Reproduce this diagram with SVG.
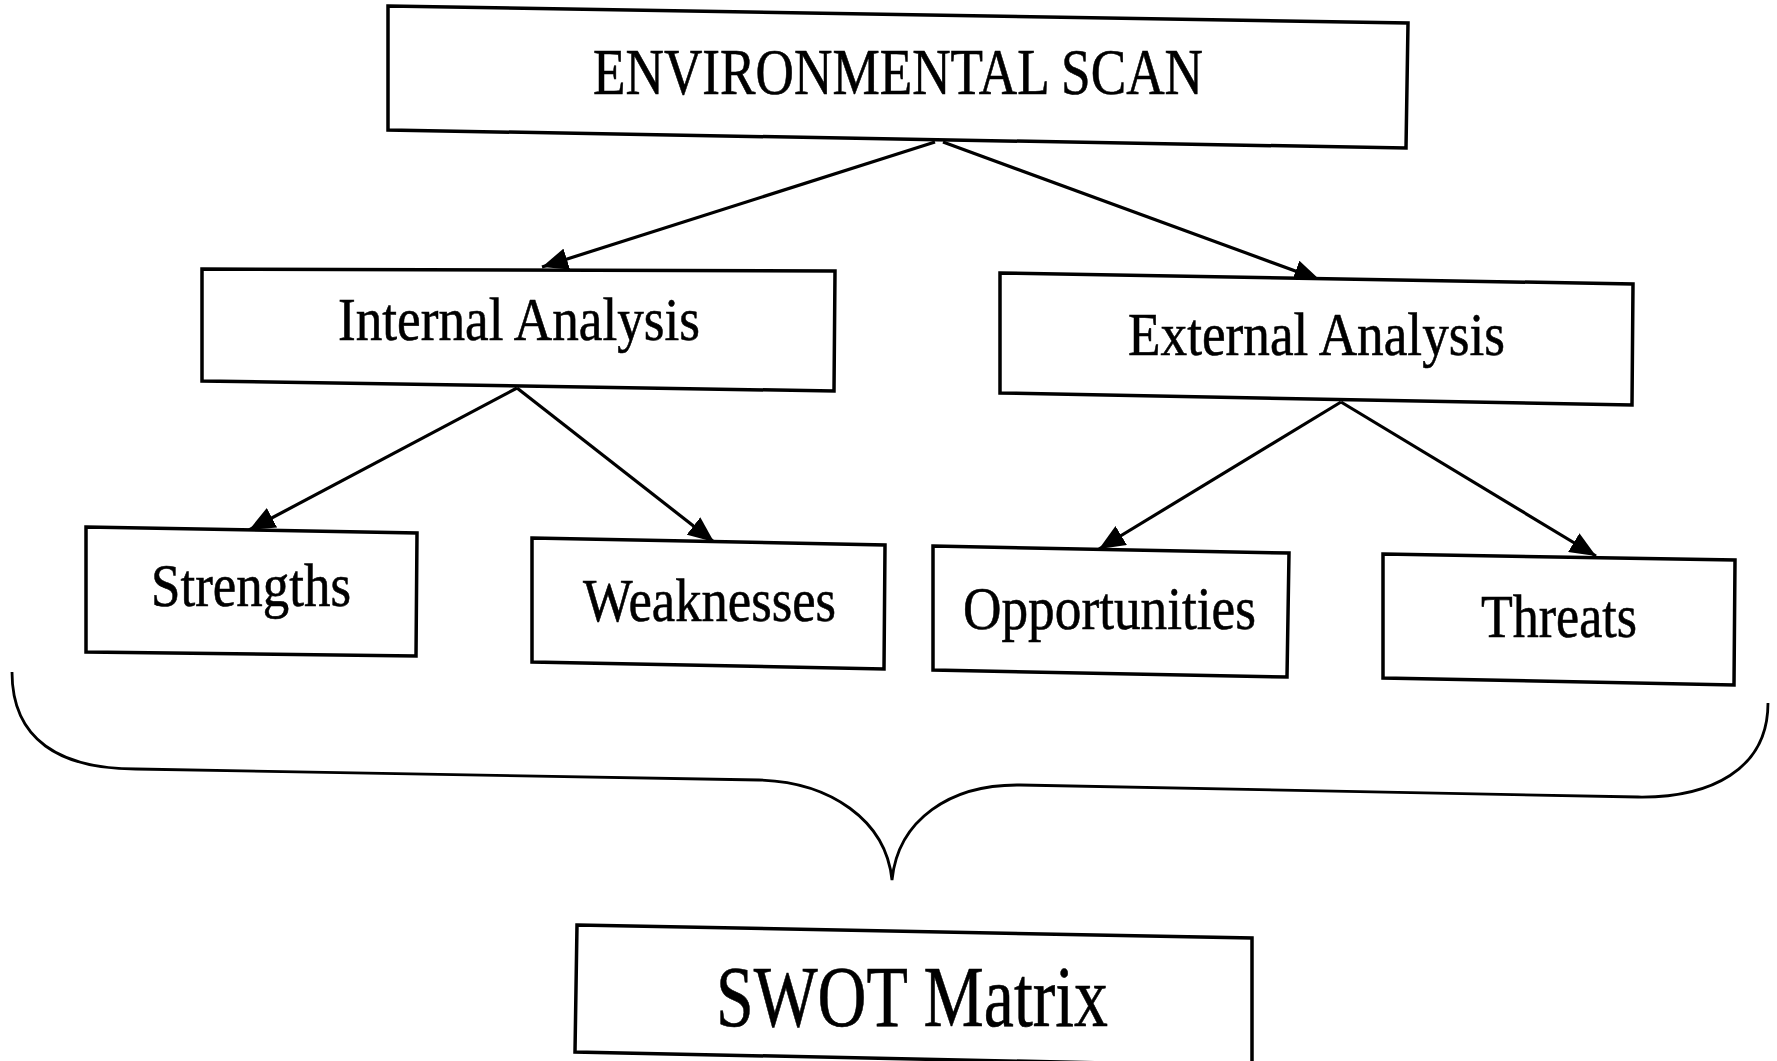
<svg xmlns="http://www.w3.org/2000/svg" width="1777" height="1061" viewBox="0 0 1777 1061">
<style>
.box{fill:#fff;stroke:#000;stroke-width:3.5;stroke-linejoin:miter}
.lbl{font-family:"Liberation Serif","Times New Roman",serif;font-size:62px;fill:#000;stroke:#000;stroke-width:0.6;text-anchor:start}
.big{font-size:86px}
.edge{fill:none;stroke:#000;stroke-width:3.2}
.brace{fill:none;stroke:#000;stroke-width:2.8}
</style>
<defs>
<marker id="arr" markerUnits="userSpaceOnUse" markerWidth="28" markerHeight="22" refX="26" refY="11" orient="auto">
<path d="M0,0 L26,11 L0,22 Z" fill="#000"/>
</marker>
</defs>
<rect width="1777" height="1061" fill="#fff"/>
<g id="connectors">
<line class="edge" x1="935" y1="142" x2="542" y2="267" marker-end="url(#arr)"/>
<line class="edge" x1="943" y1="142" x2="1320" y2="280" marker-end="url(#arr)"/>
<line class="edge" x1="517" y1="388" x2="249" y2="530" marker-end="url(#arr)"/>
<line class="edge" x1="517" y1="388" x2="714" y2="542" marker-end="url(#arr)"/>
<line class="edge" x1="1341" y1="402" x2="1099" y2="549" marker-end="url(#arr)"/>
<line class="edge" x1="1341" y1="402" x2="1596" y2="556" marker-end="url(#arr)"/>
<path id="brace" class="brace" d="M12 672 C12 740 60 769 136 769 L759 780 C830 782 886 820 892 880 C898 820 950 784 1020 785 L1638 797 C1710 798 1768 770 1768 703"/>
</g>
<g id="env">
<polygon class="box" points="388,6 1408,23 1406,148 388,130"/>
<text class="lbl" x="593" y="94" textLength="610" lengthAdjust="spacingAndGlyphs" style="font-size:65px">ENVIRONMENTAL SCAN</text>
</g>
<g id="internal">
<polygon class="box" points="202,269 835,271 834,391 202,381"/>
<text class="lbl" x="338" y="340" textLength="362" lengthAdjust="spacingAndGlyphs">Internal Analysis</text>
</g>
<g id="external">
<polygon class="box" points="1000,273 1633,284 1632,405 1000,393"/>
<text class="lbl" x="1128" y="355" textLength="377" lengthAdjust="spacingAndGlyphs">External Analysis</text>
</g>
<g id="strengths">
<polygon class="box" points="86,527 417,533 416,656 86,652"/>
<text class="lbl" x="151" y="606" textLength="200" lengthAdjust="spacingAndGlyphs">Strengths</text>
</g>
<g id="weaknesses">
<polygon class="box" points="532,538 885,545 884,669 532,662"/>
<text class="lbl" x="583" y="621" textLength="253" lengthAdjust="spacingAndGlyphs">Weaknesses</text>
</g>
<g id="opportunities">
<polygon class="box" points="933,546 1289,553 1287,677 933,670"/>
<text class="lbl" x="963" y="629" textLength="293" lengthAdjust="spacingAndGlyphs">Opportunities</text>
</g>
<g id="threats">
<polygon class="box" points="1383,554 1735,560 1734,685 1383,678"/>
<text class="lbl" x="1481" y="637" textLength="156" lengthAdjust="spacingAndGlyphs">Threats</text>
</g>
<g id="swot">
<polygon class="box" points="577,925 1252,938 1252,1066 575,1052"/>
<text class="lbl big" x="716" y="1026" textLength="392" lengthAdjust="spacingAndGlyphs">SWOT Matrix</text>
</g>
</svg>
